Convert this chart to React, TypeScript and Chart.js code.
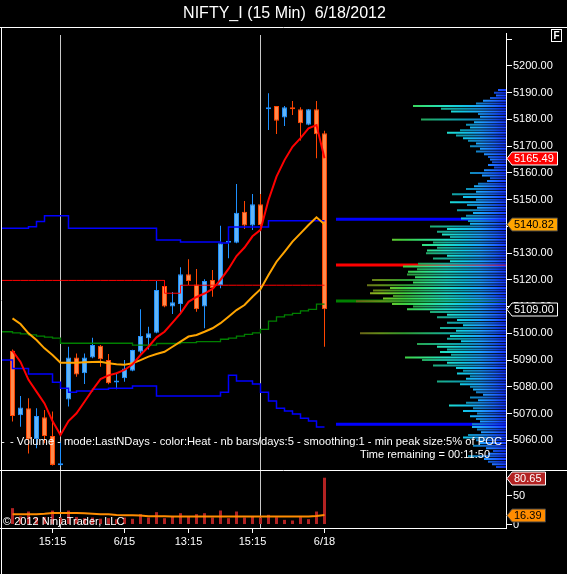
import React, { useEffect, useRef } from 'react';
import { Chart, registerables } from 'chart.js';

Chart.register(...registerables);

const FONT = "'Liberation Sans', Arial, Helvetica, sans-serif";

const TITLE = 'NIFTY_I (15 Min)  6/18/2012';
const PROFILE_LABEL = '- Volume - mode:LastNDays - color:Heat - nb bars/days:5 - smoothing:1 - min peak size:5% of POC';
const TIME_REMAINING = 'Time remaining = 00:11:50';
const COPYRIGHT = '\u00a9 2012 NinjaTrader, LLC';

// ---- 15-minute bars (index 0..39) ----
const OPEN = [5093.5, 5069.4, 5072.0, 5060.4, 5068.6, 5061.6, 5050.7, 5075.3, 5091.0, 5085.1,
  5091.0, 5095.4, 5090.0, 5081.6, 5083.2, 5086.0, 5093.1, 5098.2, 5100.2, 5117.7,
  5110.0, 5111.0, 5122.1, 5118.3, 5110.0, 5120.0, 5118.1, 5133.9, 5133.9, 5145.5,
  5140.3, 5148.3, 5183.8, 5185.0, 5180.7, 5184.2, 5183.8, 5178.0, 5183.8, 5174.8];
const HIGH = [5094.0, 5076.6, 5075.7, 5072.0, 5071.3, 5070.8, 5059.5, 5095.0, 5092.5, 5092.5,
  5098.4, 5095.6, 5092.3, 5085.1, 5090.0, 5093.9, 5109.0, 5102.5, 5119.6, 5119.9,
  5115.5, 5124.7, 5127.7, 5124.1, 5120.2, 5123.7, 5140.2, 5136.2, 5155.9, 5149.5,
  5152.1, 5152.1, 5189.8, 5185.0, 5185.0, 5186.9, 5184.6, 5183.9, 5186.9, 5175.8];
const LOW = [5067.0, 5065.1, 5055.1, 5057.0, 5058.9, 5050.6, 5050.5, 5072.6, 5083.8, 5081.1,
  5090.7, 5087.5, 5081.0, 5079.1, 5081.9, 5085.8, 5092.5, 5094.0, 5100.0, 5109.8,
  5107.2, 5107.5, 5118.1, 5108.1, 5101.9, 5113.7, 5116.9, 5128.1, 5133.7, 5139.0,
  5138.7, 5139.3, 5176.1, 5174.6, 5177.6, 5181.7, 5172.1, 5177.8, 5165.5, 5095.0];
const CLOSE = [5069.1, 5072.3, 5060.4, 5069.1, 5061.6, 5050.8, 5050.9, 5091.0, 5084.6, 5091.0,
  5095.6, 5090.3, 5081.3, 5082.0, 5086.9, 5093.8, 5099.0, 5100.0, 5116.2, 5110.0,
  5111.6, 5122.1, 5119.6, 5109.0, 5119.6, 5116.9, 5133.7, 5134.2, 5145.1, 5140.3,
  5148.3, 5140.5, 5184.6, 5179.5, 5184.6, 5183.8, 5178.6, 5183.8, 5174.5, 5109.0];

// ---- indicators ----
const EMA_FAST = [5093.5, 5089.3, 5082.6, 5078.2, 5073.8, 5067.2, 5062.0, 5067.2, 5070.1, 5074.4,
  5078.8, 5082.9, 5084.3, 5085.1, 5086.3, 5088.4, 5091.9, 5095.0, 5098.5, 5100.6,
  5104.0, 5107.5, 5111.8, 5113.6, 5114.9, 5116.6, 5120.0, 5124.1, 5128.9, 5132.1,
  5136.3, 5138.7, 5149.9, 5158.6, 5164.8, 5169.8, 5173.0, 5176.7, 5177.9, 5165.49];
const SMA_SLOW = [5105.6, 5103.5, 5100.0, 5097.5, 5094.4, 5091.9, 5089.0, 5089.0, 5089.0, 5089.2,
  5089.3, 5089.4, 5088.8, 5088.4, 5088.3, 5088.8, 5090.0, 5091.3, 5092.3, 5093.1,
  5095.0, 5096.9, 5098.8, 5099.4, 5100.6, 5101.9, 5103.8, 5106.2, 5108.7, 5110.6,
  5113.7, 5116.5, 5121.8, 5126.8, 5130.5, 5134.3, 5137.4, 5140.5, 5143.4, 5140.82];
const GREEN_START = 5100.6;
const GREEN_STEP = [5100.2, 5099.8, 5099.4, 5099.0, 5098.6, 5098.2, 5096.3, 5096.3, 5096.3, 5096.3,
  5096.3, 5096.3, 5096.3, 5096.3, 5096.3, 5095.6, 5095.6, 5095.6, 5096.2, 5096.2,
  5096.2, 5096.5, 5096.5, 5096.9, 5096.9, 5096.9, 5097.8, 5098.2, 5099.0, 5099.6,
  5100.2, 5101.5, 5104.6, 5106.2, 5106.9, 5107.5, 5108.4, 5109.0, 5110.9, 5110.9];
const UPPER_START = 5139.3;
const UPPER_STEP = [5139.3, 5139.3, 5139.9, 5141.8, 5144.0, 5144.0, 5144.0, 5139.3, 5139.3, 5139.3,
  5139.3, 5139.3, 5139.3, 5139.3, 5139.3, 5139.3, 5139.3, 5139.3, 5134.9, 5134.9,
  5134.9, 5134.2, 5134.2, 5134.2, 5134.2, 5134.2, 5133.8, 5139.8, 5139.8, 5139.8,
  5139.8, 5139.8, 5142.1, 5142.1, 5142.1, 5142.1, 5142.1, 5142.1, 5142.1, 5142.1];
const LOWER_START = 5090.0;
const LOWER_STEP = [5086.9, 5086.9, 5084.8, 5084.8, 5084.8, 5081.7, 5079.5, 5078.0, 5078.4, 5078.4,
  5079.1, 5079.1, 5079.5, 5079.5, 5079.5, 5080.3, 5080.3, 5080.3, 5076.6, 5076.6,
  5076.6, 5076.6, 5076.6, 5076.6, 5076.6, 5076.6, 5078.0, 5084.3, 5082.2, 5082.2,
  5081.1, 5078.0, 5074.7, 5072.0, 5071.0, 5069.8, 5068.2, 5067.2, 5065.0, 5065.0];
const RED_START = 5119.8;
const RED_STEP = [5119.8, 5119.8, 5119.8, 5119.8, 5119.8, 5119.8, 5119.8, 5119.8, 5119.8, 5119.8,
  5119.8, 5119.8, 5119.8, 5119.8, 5119.8, 5119.8, 5119.8, 5119.8, 5119.8, 5115.0,
  5115.0, 5118.0, 5118.0, 5118.0, 5118.0, 5118.0, 5118.0, 5118.0, 5118.0, 5118.0,
  5118.0, 5118.0, 5118.0, 5118.0, 5118.0, 5118.0, 5118.0, 5118.0, 5118.0, 5118.0];

// ---- volume panel ----
const VOLUME = [28.2, 14, 22.4, 12, 13, 24, 12, 24, 13, 11,
  12, 10, 11, 9, 12, 9.8, 17.8, 12.1, 21.3, 10.9,
  13.8, 19.5, 13.8, 17.8, 19.5, 12.1, 24.1, 10.9, 22.4, 12.1,
  13.8, 12.1, 16.7, 12.6, 8.0, 6.9, 12.6, 9.2, 22.4, 80.65];
const VOLUME_MA = [17.6, 17.6, 17.6, 17.6, 18.5, 19.8, 19.8, 19.8, 19.8, 19.5,
  18.5, 17.6, 17.6, 16.5, 15.9, 15.9, 15.5, 14.2, 14.2, 14.2,
  14.0, 14.0, 14.0, 14.0, 14.0, 14.0, 14.0, 14.0, 14.0, 14.0,
  14.0, 14.0, 14.0, 13.8, 13.8, 13.8, 13.8, 13.8, 14.5, 16.39];

// ---- volume profile (one row per index point, from PROFILE_TOP downwards) ----
const PROFILE_TOP = 5191;
const PROFILE_STEP = 1;
const PROFILE_VOLUMES = [
  8, 12, 10, 16, 23, 30, 93, 65, 55, 28,
  26, 85, 32, 40, 36, 46, 59, 50, 43, 38,
  30, 36, 26, 30, 22, 18, 16, 14, 18, 12,
  22, 36, 24, 16, 19, 28, 32, 40, 30, 54,
  43, 30, 56, 39, 29, 49, 33, 40, 45, 38,
  36, 76, 59, 69, 64, 56, 114, 73, 84, 69,
  79, 80, 59, 73, 56, 88, 103, 89, 98, 99,
  91, 134, 93, 139, 116, 133, 136, 113, 123, 150,
  114, 93, 99, 76, 59, 69, 49, 59, 43, 66,
  50, 146, 56, 59, 45, 89, 69, 59, 66, 55,
  101, 84, 59, 73, 50, 43, 49, 36, 40, 69,
  46, 36, 33, 30, 23, 36, 28, 40, 57, 33,
  43, 29, 36, 30, 26, 34, 34, 29, 25, 38,
  43, 30, 26, 33, 20, 13, 18, 38, 22, 18,
  14, 10];
const PEAK_LEVELS = [5142.7, 5125.6, 5112.1, 5066.0];
const PEAK_COLORS = ['#0000ff', '#ff0000', '#008000', '#0000ff'];
const PEAK_VOLUME = 170;

// ---- axes ----
const X_TICKS = [5, 14, 22, 30, 39];
const X_TICK_LABELS = ['15:15', '6/15', '13:15', '15:15', '6/18'];
const SESSION_BREAKS = [6, 31];
const PRICE_TICKS = [5060, 5070, 5080, 5090, 5100, 5110, 5120, 5130, 5140, 5150, 5160, 5170, 5180, 5190, 5200, 5210];
const PRICE_LABEL_MAX = 5200;
const VOLUME_TICKS = [0, 50];

// ---- layout constants ----
const X_MIN = -1.3125;
const X_MAX = 61.6875;
const PRICE_MIN = 5048.89;
const PRICE_MAX = 5212.34;
const VOL_MIN = -6.03;
const VOL_MAX = 93.97;
const PROFILE_AXIS_MAX = 504;

const UP_FILL = '#62b4f6';
const UP_LINE = '#1e90ff';
const DN_FILL = '#ff8a4c';
const DN_LINE = '#ff4500';

const BRIGHT_STOPS: [number, string][] = [
  [0, '#1438ff'], [0.07, '#1e6cff'], [0.15, '#1ea0ff'], [0.25, '#12c6e6'], [0.35, '#20deca'],
  [0.47, '#30e088'], [0.6, '#40d040'], [0.74, '#84c020'], [0.88, '#928020'], [1, '#8a5a18'],
];
const DIM_STOPS: [number, string][] = [
  [0, '#0c22d8'], [0.07, '#1250d8'], [0.15, '#147ccc'], [0.25, '#0c98b0'], [0.35, '#16aa9a'],
  [0.47, '#22aa66'], [0.6, '#309a30'], [0.74, '#648e18'], [0.88, '#6c5e18'], [1, '#664212'],
];

const seriesData = (values: number[]) => values.map((v, i) => ({ x: i, y: v }));
const stepData = (start: number, values: number[]) => [{ x: X_MIN, y: start }, ...seriesData(values)];

const profileRows = (parity: number) => {
  const data: { x: number; y: number | null }[] = [];
  PROFILE_VOLUMES.forEach((v, i) => {
    if (i % 2 !== parity) return;
    const price = PROFILE_TOP - i * PROFILE_STEP;
    data.push({ x: v, y: price }, { x: 0, y: price }, { x: 0, y: null });
  });
  return data;
};

const heat = (chart: any, stops: [number, string][]) => {
  const xp = chart.scales && chart.scales.xp;
  if (!xp) return stops[0][1];
  const x0 = xp.getPixelForValue(0);
  const x1 = xp.getPixelForValue(PEAK_VOLUME);
  if (!isFinite(x0) || !isFinite(x1) || x0 === x1) return stops[0][1];
  const g = chart.ctx.createLinearGradient(x0, 0, x1, 0);
  stops.forEach(([o, c]) => g.addColorStop(o, c));
  return g;
};

const drawTag = (ctx: CanvasRenderingContext2D, xAxis: number, yPix: number, text: string, fill: string, stroke: string, textColor: string) => {
  ctx.font = `11px ${FONT}`;
  const w = ctx.measureText(text).width;
  const h = 6.5;
  const xb = xAxis + 6;
  const xr = Math.round(xb + w + 5) + 0.5;
  const yc = Math.round(yPix) + 0.5;
  ctx.beginPath();
  ctx.moveTo(xAxis + 1, yc);
  ctx.lineTo(xb, yc - h);
  ctx.lineTo(xr, yc - h);
  ctx.lineTo(xr, yc + h);
  ctx.lineTo(xb, yc + h);
  ctx.closePath();
  ctx.fillStyle = fill;
  ctx.fill();
  ctx.strokeStyle = stroke;
  ctx.lineWidth = 1;
  ctx.stroke();
  ctx.fillStyle = textColor;
  ctx.textAlign = 'left';
  ctx.textBaseline = 'middle';
  ctx.fillText(text, xb + 2, yc + 0.5);
};

const decorPlugin = {
  id: 'ntDecor',
  beforeDatasetsDraw(chart: any) {
    const { ctx, scales } = chart;
    const top = scales.y.top;
    const bottom = scales.yv.bottom;
    ctx.save();
    ctx.strokeStyle = '#c8c8c8';
    ctx.lineWidth = 1;
    SESSION_BREAKS.forEach((b) => {
      const px = Math.floor(scales.x.getPixelForValue(b)) + 0.5;
      ctx.beginPath();
      ctx.moveTo(px, top + 2);
      ctx.lineTo(px, bottom);
      ctx.stroke();
    });
    ctx.restore();
  },
  afterDraw(chart: any) {
    const { ctx, scales, chartArea, width, height } = chart;
    const y = scales.y;
    const yv = scales.yv;
    ctx.save();
    ctx.strokeStyle = '#ffffff';
    ctx.lineWidth = 1;
    // frame lines
    ctx.beginPath();
    ctx.moveTo(0, 27.5); ctx.lineTo(width, 27.5);
    ctx.moveTo(1.5, 27); ctx.lineTo(1.5, height);
    ctx.moveTo(0, yv.top + 0.5); ctx.lineTo(width, yv.top + 0.5);
    ctx.moveTo(0, chartArea.bottom + 0.5); ctx.lineTo(chartArea.right, chartArea.bottom + 0.5);
    ctx.stroke();
    // F box
    ctx.strokeRect(551.5, 29.5, 10, 12);
    ctx.fillStyle = '#ffffff';
    ctx.font = `bold 10px ${FONT}`;
    ctx.textAlign = 'center';
    ctx.textBaseline = 'middle';
    ctx.fillText('F', 556.5, 36);

    // texts
    ctx.font = `11.2px ${FONT}`;
    ctx.fillStyle = '#ffffff';
    ctx.textBaseline = 'middle';
    ctx.textAlign = 'left';
    ctx.fillText('-', 1, 442);
    ctx.fillText(PROFILE_LABEL, 10, 442, 492);
    ctx.font = `11px ${FONT}`;
    ctx.textAlign = 'right';
    ctx.fillText(TIME_REMAINING, 490, 455);
    ctx.textAlign = 'left';
    ctx.fillText(COPYRIGHT, 3, 522);

    // value tags
    const ax = chartArea.right;
    const last = CLOSE.length - 1;
    drawTag(ctx, ax, y.getPixelForValue(EMA_FAST[last]), EMA_FAST[last].toFixed(2), '#ff0000', '#ffffff', '#ffffff');
    drawTag(ctx, ax, y.getPixelForValue(SMA_SLOW[last]), SMA_SLOW[last].toFixed(2), '#ffa500', '#404040', '#000000');
    drawTag(ctx, ax, y.getPixelForValue(CLOSE[last]), CLOSE[last].toFixed(2), '#000000', '#ffffff', '#ffffff');
    drawTag(ctx, ax, yv.getPixelForValue(VOLUME[last]), VOLUME[last].toFixed(2), '#b22222', '#ffffff', '#ffffff');
    drawTag(ctx, ax, yv.getPixelForValue(VOLUME_MA[last]), VOLUME_MA[last].toFixed(2), '#ff8c00', '#404040', '#000000');
    ctx.restore();
  },
};

export default function App() {
  const ref = useRef<HTMLCanvasElement>(null);

  useEffect(() => {
    const canvas = ref.current;
    if (!canvas) return;
    Chart.defaults.font.family = FONT;
    Chart.defaults.font.size = 11;
    Chart.defaults.color = '#ffffff';

    const isUp = OPEN.map((o, i) => CLOSE[i] >= o);
    const lineBase = {
      type: 'line' as const,
      pointRadius: 0,
      pointHoverRadius: 0,
      tension: 0,
      fill: false,
      xAxisID: 'x',
      yAxisID: 'y',
    };

    const datasets: any[] = [
      { ...lineBase, label: 'EMA', data: seriesData(EMA_FAST), borderColor: '#ff0000', borderWidth: 2, order: 1 },
      { ...lineBase, label: 'SMA', data: seriesData(SMA_SLOW), borderColor: '#ffa500', borderWidth: 2, order: 2 },
      { ...lineBase, label: 'Upper', data: stepData(UPPER_START, UPPER_STEP), stepped: true, borderColor: '#0000ff', borderWidth: 1.5, order: 3 },
      { ...lineBase, label: 'Lower', data: stepData(LOWER_START, LOWER_STEP), stepped: true, borderColor: '#0000ff', borderWidth: 1.5, order: 3 },
      { ...lineBase, label: 'Green', data: stepData(GREEN_START, GREEN_STEP), stepped: true, borderColor: '#008000', borderWidth: 1.3, order: 3 },
      { ...lineBase, label: 'Red', data: stepData(RED_START, RED_STEP), stepped: true, borderColor: '#ff0000', borderWidth: 1, order: 3 },
      { ...lineBase, label: 'Volume MA', yAxisID: 'yv', data: seriesData(VOLUME_MA), borderColor: '#ff8c00', borderWidth: 2, order: 4 },
      {
        type: 'bar', label: 'Bodies', xAxisID: 'x', yAxisID: 'y',
        data: OPEN.map((o, i) => ({ x: i, y: [o, CLOSE[i]] })),
        backgroundColor: isUp.map((u) => (u ? UP_FILL : DN_FILL)),
        borderColor: isUp.map((u) => (u ? UP_LINE : DN_LINE)),
        borderWidth: 1, borderSkipped: false, barThickness: 5, grouped: false,
        minBarLength: 2, inflateAmount: 0, order: 10,
      },
      {
        type: 'bar', label: 'Wicks', xAxisID: 'x', yAxisID: 'y',
        data: LOW.map((l, i) => ({ x: i, y: [l, HIGH[i]] })),
        backgroundColor: isUp.map((u) => (u ? UP_LINE : DN_LINE)),
        borderWidth: 0, barThickness: 1, grouped: false, inflateAmount: 0, order: 11,
      },
      {
        type: 'bar', label: 'Volume', xAxisID: 'x', yAxisID: 'yv',
        data: seriesData(VOLUME),
        backgroundColor: '#b22222', borderWidth: 0, barThickness: 3, grouped: false, inflateAmount: 0, order: 12,
      },
      {
        type: 'line', label: 'Profile', xAxisID: 'xp', yAxisID: 'y', data: profileRows(0),
        pointRadius: 0, borderWidth: 2, borderCapStyle: 'butt', spanGaps: false, fill: false,
        borderColor: (c: any) => heat(c.chart, BRIGHT_STOPS), order: 30,
      },
      {
        type: 'line', label: 'Profile2', xAxisID: 'xp', yAxisID: 'y', data: profileRows(1),
        pointRadius: 0, borderWidth: 2, borderCapStyle: 'butt', spanGaps: false, fill: false,
        borderColor: (c: any) => heat(c.chart, DIM_STOPS), order: 30,
      },
      ...PEAK_LEVELS.map((lvl, k) => ({
        type: 'line', label: `Peak${k}`, xAxisID: 'xp', yAxisID: 'y',
        data: [{ x: PEAK_VOLUME, y: lvl }, { x: 0, y: lvl }],
        pointRadius: 0, borderWidth: 3, borderCapStyle: 'butt', borderColor: PEAK_COLORS[k], fill: false, order: 31,
      })),
    ];

    const chart = new Chart(canvas, {
      type: 'line',
      data: { datasets },
      plugins: [decorPlugin],
      options: {
        animation: false,
        responsive: false,
        devicePixelRatio: 1,
        events: [],
        layout: { padding: { left: 2, right: 0, top: 0, bottom: 0 } },
        plugins: {
          legend: { display: false },
          tooltip: { enabled: false },
          title: {
            display: true,
            text: TITLE,
            color: '#ffffff',
            font: { size: 16, weight: 'normal', family: FONT },
            padding: { top: 3.5, bottom: 10.3 },
          },
        },
        scales: {
          x: {
            type: 'linear', position: 'bottom', min: X_MIN, max: X_MAX, offset: false,
            afterBuildTicks: (s: any) => { s.ticks = X_TICKS.map((v) => ({ value: v })); },
            afterFit: (s: any) => { s.height = 46; },
            ticks: {
              color: '#ffffff', padding: 2, autoSkip: false, maxRotation: 0,
              callback: (v: any) => { const k = X_TICKS.indexOf(Number(v)); return k >= 0 ? X_TICK_LABELS[k] : ''; },
            },
            grid: { drawOnChartArea: false, drawTicks: true, tickLength: 5, color: '#ffffff', offset: false },
            border: { display: true, color: '#ffffff', width: 1 },
          },
          xp: {
            type: 'linear', position: 'bottom', display: false, reverse: true, min: 0, max: PROFILE_AXIS_MAX, offset: false,
          },
          y: {
            type: 'linear', position: 'right', stack: 'panels', stackWeight: 437, weight: 0,
            min: PRICE_MIN, max: PRICE_MAX,
            afterBuildTicks: (s: any) => { s.ticks = PRICE_TICKS.map((v) => ({ value: v })); },
            afterFit: (s: any) => { s.width = 61; },
            ticks: {
              color: '#ffffff', padding: 1, autoSkip: false,
              callback: (v: any) => (Number(v) > PRICE_LABEL_MAX ? '' : Number(v).toFixed(2)),
            },
            grid: { drawOnChartArea: false, drawTicks: true, tickLength: 6, color: '#ffffff' },
            border: { display: true, color: '#ffffff', width: 1 },
          },
          yv: {
            type: 'linear', position: 'right', stack: 'panels', stackWeight: 58, weight: 1,
            min: VOL_MIN, max: VOL_MAX,
            afterBuildTicks: (s: any) => { s.ticks = VOLUME_TICKS.map((v) => ({ value: v })); },
            afterFit: (s: any) => { s.width = 61; },
            ticks: { color: '#ffffff', padding: 1, autoSkip: false, callback: (v: any) => String(v) },
            grid: { drawOnChartArea: false, drawTicks: true, tickLength: 6, color: '#ffffff' },
            border: { display: true, color: '#ffffff', width: 1 },
          },
        },
      } as any,
    } as any);

    return () => chart.destroy();
  }, []);

  return (
    <div style={{ position: 'fixed', left: 0, top: 0, width: 567, height: 574, background: '#000000', overflow: 'hidden' }}>
      <canvas ref={ref} width={567} height={574} style={{ display: 'block', width: 567, height: 574 }} />
    </div>
  );
}
